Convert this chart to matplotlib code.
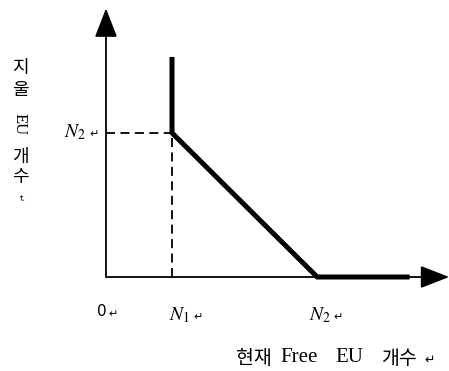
import matplotlib
matplotlib.use("Agg")
import matplotlib.pyplot as plt

plt.rcParams['mathtext.fontset'] = 'stix'

# data (in chart units)
N1 = 1.0
N2_x = 3.2
N2_y = 2.2
curve_x = [N1, N1, N2_x, 4.6]
curve_y = [3.36, N2_y, 0.0, 0.0]
x_max = 5.2
y_max = 4.1

x_ticks = [0.0, N1, N2_x]
x_tick_labels = ["0", "$N_1$", "$N_2$"]
y_tick_label = "$N_2$"
x_title_parts = ["현재", "Free", "EU", "개수"]
y_title_chars = ["지", "울", "EU", "개", "수"]
RET = "\u21b5"

fig = plt.figure(figsize=(4.49, 3.71), dpi=100)
ax = fig.add_axes([0, 0, 1, 1])
PX = 66.0
PY = 65.5
ax.set_xlim(-106 / PX, (449 - 106) / PX)
ax.set_ylim(-(371 - 277) / PY, 277 / PY)
ax.axis('off')


def px(x):
    return (x - 106) / PX


def py(y):
    return (277 - y) / PY


kfont = ['Noto Sans CJK KR', 'DejaVu Sans']
sfont = ['Liberation Serif', 'Noto Sans CJK KR']

# axes arrows
arr = dict(arrowstyle='-|>,head_length=0.9,head_width=0.35', lw=1.3, color='black',
           mutation_scale=20, shrinkA=0, shrinkB=0)
ax.annotate('', xy=(x_max, 0), xytext=(0, 0), arrowprops=arr)
ax.annotate('', xy=(0, y_max), xytext=(0, 0), arrowprops=arr)

# dashed guides
ax.plot([0, N1], [N2_y, N2_y], color='black', lw=1.3, ls=(0, (5, 3)))
ax.plot([N1, N1], [0, N2_y], color='black', lw=1.3, ls=(0, (5, 3)))

# thick curve
ax.plot(curve_x, curve_y, color='black', lw=3.6, solid_joinstyle='miter', solid_capstyle='butt')


def ret(x, y, size=8, rot=0):
    ax.text(px(x), py(y), RET, fontsize=size, family='DejaVu Sans', ha='left', va='center',
            rotation=rot)


# tick labels
ax.text(px(97), py(312), x_tick_labels[0], fontsize=11, family='DejaVu Sans',
        ha='left', va='center')
ret(108, 314)
ax.text(px(169), py(315), x_tick_labels[1], fontsize=14, ha='left', va='center')
ret(193, 317)
ax.text(px(309), py(315), x_tick_labels[2], fontsize=14, ha='left', va='center')
ret(333, 317)
ax.text(px(64), py(132), y_tick_label, fontsize=14, ha='left', va='center')
ret(89, 134)

# x axis title
title_lefts = [236, 280, 335, 381]
for part, left in zip(x_title_parts, title_lefts):
    is_latin = part.isascii()
    ax.text(px(left), py(358), part, fontsize=15 if is_latin else 14,
            family=sfont if is_latin else kfont, ha='left', va='center')
ret(424, 360, size=9)

# y axis title (vertical)
y_positions = [68, 90, 124, 157, 177]
for ch, yp in zip(y_title_chars, y_positions):
    if ch == "EU":
        ax.text(px(20), py(yp), ch, fontsize=12, family=sfont, ha='center', va='center',
                rotation=-90)
    else:
        ax.text(px(20), py(yp), ch, fontsize=13, family=kfont, ha='center', va='center')
ret(16, 198, size=6, rot=-90)

fig.savefig("out.png", dpi=100)
